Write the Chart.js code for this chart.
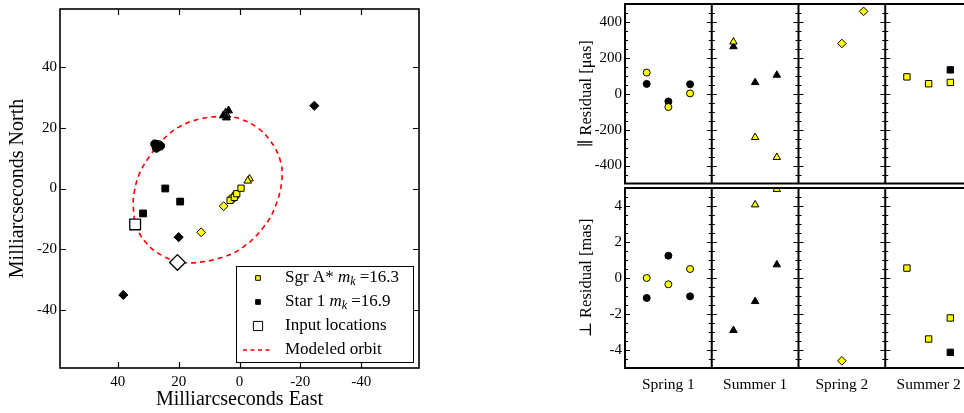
<!DOCTYPE html>
<html>
<head>
<meta charset="utf-8">
<script src="https://cdn.jsdelivr.net/npm/chart.js@4.4.0/dist/chart.umd.min.js"></script>
<style>
  html, body { margin: 0; padding: 0; background: #fff; overflow: hidden; width: 964px; height: 413px; }
  canvas { position: absolute; }
  #orbitChart { left: 0; top: 0; }
  #parChart { left: 560px; top: 0; }
  #perpChart { left: 560px; top: 186px; }
</style>
</head>
<body>
<canvas id="orbitChart" width="440" height="413"></canvas>
<canvas id="parChart" width="420" height="186"></canvas>
<canvas id="perpChart" width="420" height="227"></canvas>
<script>
// ---- left panel: positions on the sky [mas East, mas North]
const skyTicks = [-40, -20, 0, 20, 40];
const skyMin = -59, skyMax = 59;

const sgrCircles = [[2.4, -3.3], [1.3, -2.2]];
const sgrTriangles = [[-3.3, 3.2], [-2.7, 2.5]];
const sgrDiamonds = [[5.2, -5.8], [12.6, -14.4]];
const sgrSquares = [[3.1, -3.9], [1.7, -2.9], [0.9, -1.7], [-0.5, 0.1]];

const starCircles = [[27.8, 14.6], [27.3, 13.3], [26.0, 14.0]];
const starTriangles = [[5.3, 24.0], [4.3, 23.3], [3.6, 25.6]];
const starDiamonds = [[38.2, -35.0], [-24.6, 27.2], [20.0, -16.0]];
const starSquares = [[24.4, 0.0], [19.5, -4.3], [31.7, -8.2]];

const inputCircle = [[26.7, 14.2]];
const inputTriangle = [[4.6, 24.4]];
const inputDiamond = [[20.4, -24.3]];
const inputSquare = [[34.3, -11.8]];

const orbitEast = [4.7, 12.9, 20.1, 25.5, 29.4, 32.7, 34.5, 34.9, 33.8, 30.5, 25.5, 19.5, 12.9, 5.3, -1.3, -7.9, -11.7, -13.9, -13.4, -10.1, -5.7, -0.2, 4.7];
const orbitNorth = [23.9, 22.9, 20.1, 15.7, 10.8, 5.3, -0.7, -6.1, -12.7, -18.1, -22.0, -24.2, -24.2, -22.5, -19.2, -12.7, -6.1, 2.6, 9.2, 15.7, 20.1, 22.9, 23.9];

// ---- right panels: residuals per epoch (3 frames per epoch)
const seasons = ['Spring 1', 'Summer 1', 'Spring 2', 'Summer 2'];
const epochShapes = ['circle', 'triangle', 'rectRot', 'rect'];
const epochRadius = [3.5, 4.3, 4.3, 4.5];
const frameSlots = [0.25, 0.5, 0.75];
const parTicks = [-400, -200, 0, 200, 400];
const perpTicks = [-4, -2, 0, 2, 4];

const sgrPar = [[118, -74, 2], [289, -243, -354], [null, 280, 459], [94, 56, 63]];
const starPar = [[55, -43, 53], [263, 63, 104], [null, null, null], [null, null, 133]];
const sgrPerp = [[0.0, -0.35, 0.5], [null, 4.07, 4.93], [null, -4.6, null], [0.55, -3.39, -2.22]];
const starPerp = [[-1.11, 1.24, -1.02], [-2.91, -1.3, 0.74], [null, null, null], [null, null, -4.13]];

const yellow = '#ffff00';
const serif = "'Liberation Serif', 'DejaVu Serif', serif";

function pts(arr) { return arr.map(p => ({ x: p[0], y: p[1] })); }

function marks(data, shape, radius, fill, order, bw) {
  return {
    data: data, pointStyle: shape, pointRadius: radius, pointHoverRadius: radius,
    backgroundColor: fill, borderColor: '#000', borderWidth: bw || 1, order: order
  };
}

// no extra room reserved for the outermost tick labels
function noPad(s) { s.paddingTop = 0; s.paddingBottom = 0; s.paddingLeft = 0; s.paddingRight = 0; }

const skyFrame = {
  id: 'skyFrame',
  afterDraw(chart) {
    const { ctx, chartArea: a, scales: { x, y } } = chart;
    ctx.save();
    ctx.strokeStyle = '#000';
    ctx.lineWidth = 1.2;
    skyTicks.forEach(v => {
      const px = Math.round(x.getPixelForValue(v)) + 0.5;
      const py = Math.round(y.getPixelForValue(v)) + 0.5;
      ctx.beginPath();
      ctx.moveTo(px, a.bottom); ctx.lineTo(px, a.bottom - 6);
      ctx.moveTo(px, a.top); ctx.lineTo(px, a.top + 6);
      ctx.moveTo(a.left, py); ctx.lineTo(a.left + 6, py);
      ctx.moveTo(a.right, py); ctx.lineTo(a.right - 6, py);
      ctx.stroke();
    });
    ctx.lineWidth = 1.6;
    ctx.strokeRect(a.left, a.top, a.right - a.left, a.bottom - a.top);

    // legend box, lower right
    const bx = a.right - 183, by = a.bottom - 102, bw = 177, bh = 96;
    ctx.fillStyle = '#fff';
    ctx.fillRect(bx, by, bw, bh);
    ctx.lineWidth = 1;
    ctx.strokeRect(bx + 0.5, by + 0.5, bw, bh);
    const mx = bx + 22, tx = bx + 49;
    const rows = [by + 12, by + 36, by + 60, by + 84];
    const H = Chart.helpers;
    ctx.lineWidth = 1;
    ctx.strokeStyle = '#000';
    ctx.fillStyle = yellow;
    H.drawPoint(ctx, { pointStyle: 'rect', radius: 3.3, borderWidth: 1 }, mx, rows[0]);
    ctx.fillStyle = '#000';
    H.drawPoint(ctx, { pointStyle: 'rect', radius: 3.3, borderWidth: 1 }, mx, rows[1]);
    ctx.fillStyle = '#fff';
    H.drawPoint(ctx, { pointStyle: 'rect', radius: 6.5, borderWidth: 1.3 }, mx, rows[2]);
    ctx.strokeStyle = '#ff0000';
    ctx.lineWidth = 1.5;
    ctx.setLineDash([4, 3.5]);
    ctx.beginPath(); ctx.moveTo(bx + 7, rows[3]); ctx.lineTo(bx + 37, rows[3]); ctx.stroke();
    ctx.setLineDash([]);

    ctx.fillStyle = '#000';
    ctx.textBaseline = 'middle';
    ctx.textAlign = 'left';
    const big = '17px ' + serif;
    function mk(x0, yy, pre, post) {
      ctx.font = big;
      ctx.fillText(pre, x0, yy);
      let cx = x0 + ctx.measureText(pre).width;
      ctx.font = 'italic 17px ' + serif;
      ctx.fillText('m', cx, yy);
      cx += ctx.measureText('m').width;
      ctx.font = 'italic 12px ' + serif;
      ctx.fillText('k', cx, yy + 4);
      cx += ctx.measureText('k').width;
      ctx.font = big;
      ctx.fillText(post, cx, yy);
    }
    mk(tx, rows[0], 'Sgr A* ', ' =16.3');
    mk(tx, rows[1], 'Star 1 ', ' =16.9');
    ctx.font = big;
    ctx.fillText('Input locations', tx, rows[2]);
    ctx.fillText('Modeled orbit', tx, rows[3]);
    ctx.restore();
  }
};

new Chart(document.getElementById('orbitChart'), {
  type: 'scatter',
  data: {
    datasets: [
      {
        data: orbitEast.map((e, i) => ({ x: e, y: orbitNorth[i] })),
        showLine: true, tension: 0.4, pointRadius: 0, borderColor: '#ff0000',
        borderWidth: 1.6, borderDash: [5, 4], fill: false, order: 9
      },
      marks(pts(inputCircle), 'circle', 4.6, '#fff', 7, 1.3),
      marks(pts(inputTriangle), 'triangle', 5.5, '#fff', 7, 1.3),
      marks(pts(inputDiamond), 'rectRot', 7.8, '#fff', 8, 1.3),
      marks(pts(inputSquare), 'rect', 7.6, '#fff', 8, 1.3),
      marks(pts(starCircles), 'circle', 4.2, '#000', 6),
      marks(pts(starTriangles), 'triangle', 4.6, '#000', 6),
      marks(pts(starDiamonds), 'rectRot', 4.6, '#000', 6),
      marks(pts(starSquares), 'rect', 4.8, '#000', 6),
      marks(pts(sgrCircles), 'circle', 4.0, yellow, 4),
      marks(pts(sgrTriangles), 'triangle', 4.4, yellow, 3),
      marks(pts(sgrDiamonds), 'rectRot', 4.4, yellow, 2),
      marks(pts(sgrSquares), 'rect', 4.4, yellow, 1)
    ]
  },
  options: {
    responsive: false,
    animation: false,
    layout: { autoPadding: false, padding: { top: 9, right: 21, left: 0, bottom: 0 } },
    plugins: { legend: { display: false }, tooltip: { enabled: false } },
    scales: {
      x: {
        type: 'linear', reverse: true, min: skyMin, max: skyMax,
        afterBuildTicks: s => { s.ticks = skyTicks.map(v => ({ value: v })); },
        afterFit: s => { s.height = 45; noPad(s); },
        grid: { display: false, drawTicks: false },
        border: { display: false },
        ticks: { color: '#000', font: { family: serif, size: 15 }, padding: 5, maxRotation: 0 },
        title: { display: true, text: 'Milliarcseconds East', color: '#000', font: { family: serif, size: 20 }, padding: { top: 0, bottom: 1 } }
      },
      y: {
        type: 'linear', min: skyMin, max: skyMax,
        afterBuildTicks: s => { s.ticks = skyTicks.map(v => ({ value: v })); },
        afterFit: s => { s.width = 60; noPad(s); },
        grid: { display: false, drawTicks: false },
        border: { display: false },
        ticks: { color: '#000', font: { family: serif, size: 15 }, padding: 3 },
        title: { display: true, text: 'Milliarcseconds North', color: '#000', font: { family: serif, size: 20 }, padding: { top: 6, bottom: 0 } }
      }
    }
  },
  plugins: [skyFrame]
});

// ---- residual panels
const residualFrame = {
  id: 'residualFrame',
  afterDatasetsDraw(chart, args, opts) {
    const { ctx, chartArea: a, scales: { x, y } } = chart;
    ctx.save();
    ctx.strokeStyle = '#000';
    ctx.lineWidth = 1.2;
    const n0 = Math.round(opts.min / opts.minor) + 1, n1 = Math.round(opts.max / opts.minor) - 1;
    for (let k = n0; k <= n1; k++) {
      const v = k * opts.minor;
      const major = Math.abs(v / opts.major - Math.round(v / opts.major)) < 1e-6;
      const len = major ? 5 : 3;
      const py = Math.round(y.getPixelForValue(v)) + 0.5;
      ctx.beginPath();
      ctx.moveTo(a.left, py); ctx.lineTo(a.left + len, py);
      for (let i = 1; i < seasons.length; i++) {
        const px = x.getPixelForValue(i);
        ctx.moveTo(px - len, py); ctx.lineTo(px + len, py);
      }
      ctx.stroke();
    }
    ctx.lineWidth = 2;
    ctx.beginPath();
    for (let i = 1; i < seasons.length; i++) {
      const px = x.getPixelForValue(i);
      ctx.moveTo(px, a.top); ctx.lineTo(px, a.bottom);
    }
    ctx.stroke();
    ctx.strokeRect(a.left, a.top, a.right - a.left, a.bottom - a.top);
    ctx.restore();
  }
};

function residualSets(sgr, star) {
  const sets = [];
  for (let e = 0; e < seasons.length; e++) {
    const pick = v => frameSlots.map((s, i) => ({ x: e + s, y: v[e][i] })).filter(p => p.y !== null);
    sets.push(marks(pick(star), epochShapes[e], epochRadius[e], '#000', 2));
    sets.push(marks(pick(sgr), epochShapes[e], epochRadius[e], yellow, 1));
  }
  return sets;
}

function residualChart(id, sgr, star, tickVals, lim, frameOpts, yTitle, showX) {
  return new Chart(document.getElementById(id), {
    type: 'scatter',
    data: { datasets: residualSets(sgr, star) },
    options: {
      responsive: false,
      animation: false,
      layout: { autoPadding: false, padding: { top: showX ? 2 : 4, right: 8, left: 0, bottom: showX ? 0 : 2.5 } },
      plugins: { legend: { display: false }, tooltip: { enabled: false }, residualFrame: frameOpts },
      scales: {
        x: {
          type: 'linear', min: 0, max: seasons.length, display: showX,
          afterBuildTicks: s => { s.ticks = seasons.map((c, i) => ({ value: i + 0.5 })); },
          afterFit: s => { if (showX) s.height = 45; noPad(s); },
          grid: { display: false, drawTicks: false },
          border: { display: false },
          ticks: {
            color: '#000', font: { family: serif, size: 15.5 }, padding: 8, maxRotation: 0, autoSkip: false,
            callback: (v, i) => seasons[i]
          }
        },
        y: {
          type: 'linear', min: -lim, max: lim,
          afterBuildTicks: s => { s.ticks = tickVals.map(v => ({ value: v })); },
          afterFit: s => { s.width = 65; noPad(s); },
          grid: { display: false, drawTicks: false },
          border: { display: false },
          ticks: { color: '#000', font: { family: serif, size: 15 }, padding: 3 },
          title: { display: true, text: yTitle, color: '#000', font: { family: serif, size: 16.5 }, padding: { top: 17, bottom: 0 } }
        }
      }
    },
    plugins: [residualFrame]
  });
}

residualChart('parChart', sgrPar, starPar, parTicks, 500,
  { min: -500, max: 500, major: 200, minor: 50 }, '\u2225 Residual [\u03bcas]', false);
residualChart('perpChart', sgrPerp, starPerp, perpTicks, 5,
  { min: -5, max: 5, major: 2, minor: 0.5 }, '\u22a5 Residual [mas]', true);
</script>
</body>
</html>
